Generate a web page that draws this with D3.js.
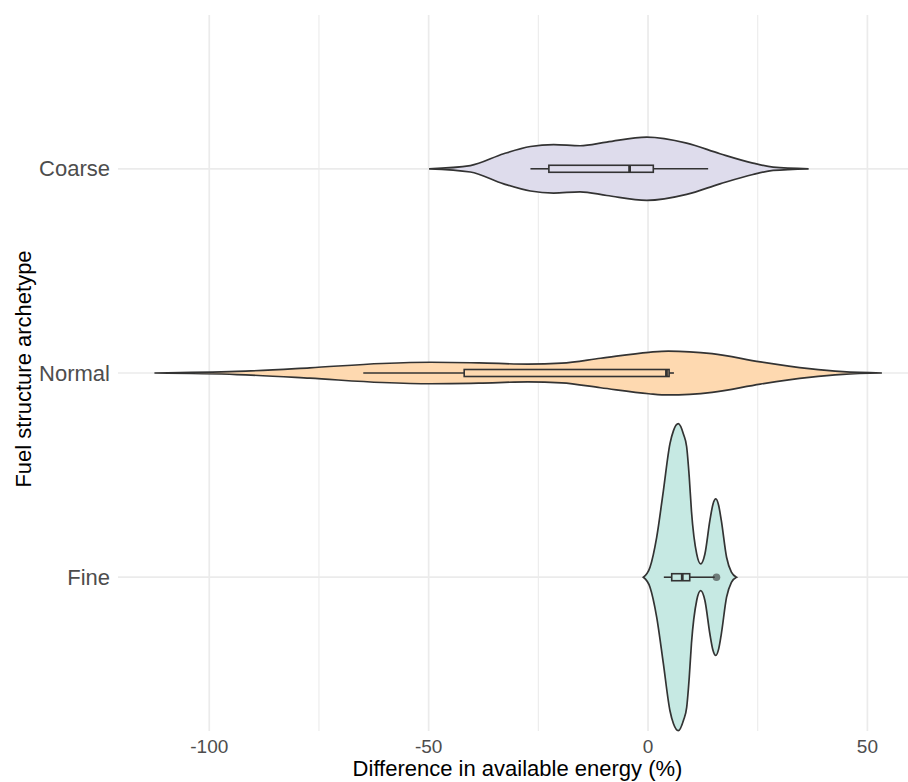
<!DOCTYPE html>
<html>
<head>
<meta charset="utf-8">
<style>
body { margin: 0; background: #fff; }
svg { font-family: "Liberation Sans", Arial, sans-serif; }
.grid line { stroke: #ebebeb; }
.ytick { font-size: 22px; fill: #4d4d4d; }
.xtick { font-size: 19px; fill: #4d4d4d; }
.title { font-size: 22px; fill: #000; }
</style>
</head>
<body>
<svg width="908" height="782"></svg>
<script src="https://d3js.org/d3.v7.min.js"></script>
<script>

// categories, top to bottom
var groups = ["Coarse", "Normal", "Fine"];
var fills = ["#dedcec", "#fed9b0", "#c6e9e3"];

// violin outlines: value (%) and relative density
var coarseVal = [-49.9, -40.5, -32.9, -26.8, -21.5, -15.5, -9.4, -0.3, 8.8, 16.4, 23.9, 28.5, 36.6];
var coarseDen = [0, .021, .098, .145, .158, .15, .174, .206, .167, .098, .037, .011, 0];

var normalVal = [-112.5, -93.7, -77.1, -60.6, -49.5, -38.5, -27.4, -19.7, -10.8, 0.2, 4.6, 14.6, 25.6, 36.7, 44.4, 53.3];
var normalDen = [0, .01, .034, .062, .07, .066, .058, .064, .096, .135, .143, .126, .072, .028, .0085, 0];

var fineVal = [-1.06, 0.45, 1.97, 3.48, 5.0, 5.8, 6.9, 8.1, 8.8, 9.4, 9.9, 11.1, 12.0, 12.95, 14.1, 14.8, 15.45, 16.1, 16.7, 17.9, 19.0, 20.15];
var fineDen = [0, .065, .26, .56, .87, .955, 1.0, .93, .85, .65, .43, .15, .087, .15, .37, .476, .51, .467, .37, .13, .033, 0];

// box stats: whisker low, q1, median, q3, whisker high
var coarseBox = [-26.8, -22.6, -4.2, 1.2, 13.7];
var normalBox = [-64.9, -41.9, 4.2, 4.8, 5.9];
var fineBox = [3.6, 5.4, 7.8, 9.5, 15.2];
var fineOutliers = [15.6];

var xTicks = [-100, -50, 0, 50];
var xMinor = [-75, -25, 25];

var violins = [
  {name: "Coarse", val: coarseVal, den: coarseDen, box: coarseBox, out: []},
  {name: "Normal", val: normalVal, den: normalDen, box: normalBox, out: []},
  {name: "Fine", val: fineVal, den: fineDen, box: fineBox, out: fineOutliers}
];

var svg = d3.select("svg");
var panel = {left: 118, right: 917, top: 15, bottom: 731};

var x = d3.scaleLinear().domain([-120.8, 61.3]).range([panel.left, panel.right]);
var y = d3.scalePoint().domain(groups).range([panel.top, panel.bottom]).padding(0.753);
var w = d3.scaleLinear().domain([0, 1]).range([0, 153.5]);
var color = d3.scaleOrdinal().domain(groups).range(fills);

var grid = svg.append("g").attr("class", "grid");
grid.selectAll(".minor").data(xMinor).enter().append("line")
    .attr("x1", function(d) { return x(d); }).attr("x2", function(d) { return x(d); })
    .attr("y1", panel.top).attr("y2", panel.bottom)
    .attr("stroke-width", 1.1);
grid.selectAll(".major").data(xTicks).enter().append("line")
    .attr("x1", function(d) { return x(d); }).attr("x2", function(d) { return x(d); })
    .attr("y1", panel.top).attr("y2", panel.bottom)
    .attr("stroke-width", 1.7);
grid.selectAll(".hmaj").data(groups).enter().append("line")
    .attr("x1", panel.left).attr("x2", 908)
    .attr("y1", function(d) { return y(d); }).attr("y2", function(d) { return y(d); })
    .attr("stroke-width", 1.7);

var g = svg.append("g");

violins.forEach(function(v) {
  var yc = y(v.name);
  var pts = v.val.map(function(d, i) { return {v: d, d: v.den[i]}; });
  var area = d3.area()
      .x(function(d) { return x(d.v); })
      .y0(function(d) { return yc + w(d.d); })
      .y1(function(d) { return yc - w(d.d); })
      .curve(d3.curveMonotoneX);

  g.append("path")
      .datum(pts)
      .attr("d", area)
      .attr("fill", color(v.name))
      .attr("stroke", "#333")
      .attr("stroke-width", 1.7);

  var b = v.box, bh = 3.5;
  g.append("line")
      .attr("x1", x(b[0])).attr("x2", x(b[1]))
      .attr("y1", yc).attr("y2", yc)
      .attr("stroke", "#333").attr("stroke-width", 1.6);
  g.append("line")
      .attr("x1", x(b[3])).attr("x2", x(b[4]))
      .attr("y1", yc).attr("y2", yc)
      .attr("stroke", "#333").attr("stroke-width", 1.6);
  g.append("rect")
      .attr("x", x(b[1])).attr("y", yc - bh)
      .attr("width", x(b[3]) - x(b[1])).attr("height", 2 * bh)
      .attr("fill", color(v.name))
      .attr("stroke", "#333").attr("stroke-width", 1.6);
  g.append("line")
      .attr("x1", x(b[2])).attr("x2", x(b[2]))
      .attr("y1", yc - bh).attr("y2", yc + bh)
      .attr("stroke", "#333").attr("stroke-width", 2.8);

  g.selectAll(null).data(v.out).enter().append("circle")
      .attr("cx", function(d) { return x(d); })
      .attr("cy", yc)
      .attr("r", 3.8)
      .attr("fill", "#333").attr("fill-opacity", 0.6);
});

// axis labels
svg.selectAll(".xtick").data(xTicks).enter().append("text")
    .attr("class", "xtick")
    .attr("x", function(d) { return x(d); })
    .attr("y", 753)
    .attr("text-anchor", "middle")
    .text(function(d) { return d < 0 ? "-" + Math.abs(d) : d; });

svg.selectAll(".ytick").data(groups).enter().append("text")
    .attr("class", "ytick")
    .attr("x", 110)
    .attr("y", function(d) { return y(d); })
    .attr("dy", "0.35em")
    .attr("text-anchor", "end")
    .text(function(d) { return d; });

svg.append("text")
    .attr("class", "title")
    .attr("x", (panel.left + panel.right) / 2)
    .attr("y", 776)
    .attr("text-anchor", "middle")
    .text("Difference in available energy (%)");

svg.append("text")
    .attr("class", "title")
    .attr("transform", "translate(31," + ((panel.top + panel.bottom) / 2 - 4) + ") rotate(-90)")
    .attr("text-anchor", "middle")
    .text("Fuel structure archetype");

</script>
</body>
</html>
